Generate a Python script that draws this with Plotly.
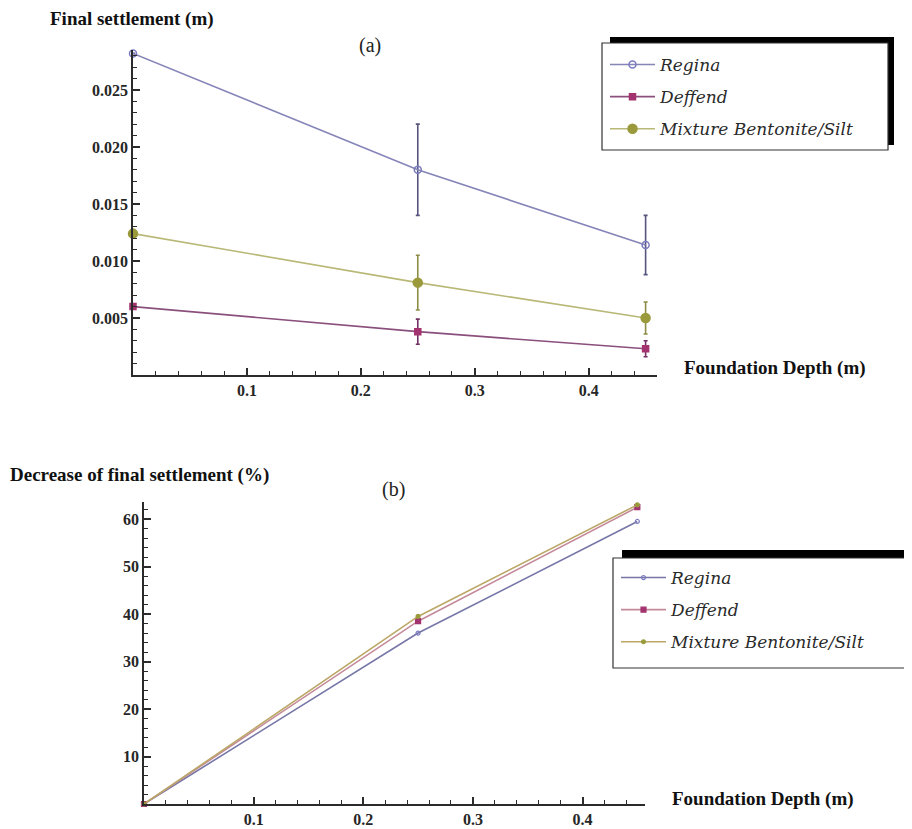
import plotly.graph_objects as go

# The page body has an 8px margin, so the figure is drawn 8px in from the top-left.
OFF = 8
W, H = 912 - OFF, 829 - OFF

# ---------------- data ----------------
depth = [0.0, 0.25, 0.45]

# (a) final settlement (m)
regina_settle = [0.0282, 0.0180, 0.0114]
regina_err = [0.0, 0.0040, 0.0026]
deffend_settle = [0.0060, 0.0038, 0.0023]
deffend_err = [0.0, 0.0011, 0.0007]
mixture_settle = [0.0124, 0.0081, 0.0050]
mixture_err = [0.0, 0.0024, 0.0014]

# (b) decrease of final settlement (%)
regina_dec = [0.0, 36.0, 59.5]
deffend_dec = [0.0, 38.5, 62.5]
mixture_dec = [0.0, 39.5, 63.0]

series_names = ["Regina", "Deffend", "Mixture Bentonite/Silt"]

xa_ticks = [0.1, 0.2, 0.3, 0.4]
ya_ticks = [0.005, 0.010, 0.015, 0.020, 0.025]
yb_ticks = [10, 20, 30, 40, 50, 60]

# ---------------- styling ----------------
SERIF = "Liberation Serif, Times New Roman, serif"
LEG_FONT = "DejaVu Serif, serif"
line_cols = ["#8585b8", "#8a4f7c", "#b8b877"]
err_cols = ["#55557e", "#733064", "#8c8c45"]
mk_cols = ["#7b7bc0", "#a3336f", "#9a9a3c"]
line_cols_b = ["#7676a8", "#c48a9a", "#bba766"]

def px(x):
    return (x - OFF) / W

def py(y):
    return 1 - (y - OFF) / H

fig = go.Figure()

settles = [regina_settle, deffend_settle, mixture_settle]
errs = [regina_err, deffend_err, mixture_err]
symbols = ["circle-open", "square", "circle"]
sizes = [7, 6, 9]
for i in range(3):
    fig.add_trace(go.Scatter(
        x=depth, y=settles[i], name=series_names[i], mode="lines+markers",
        line=dict(color=line_cols[i], width=1.6),
        marker=dict(symbol=symbols[i], size=sizes[i], color=mk_cols[i],
                    line=dict(color=mk_cols[i], width=1.5)),
        error_y=dict(type="data", array=errs[i], visible=True, color=err_cols[i],
                     thickness=1.6, width=2),
        cliponaxis=False, legend="legend", legendgroup="a%d" % i,
        xaxis="x", yaxis="y"))

decs = [regina_dec, deffend_dec, mixture_dec]
for i in range(3):
    fig.add_trace(go.Scatter(
        x=depth, y=decs[i], name=series_names[i], mode="lines+markers",
        line=dict(color=line_cols_b[i], width=1.6),
        marker=dict(symbol=symbols[i], size=[4, 5, 4][i], color=mk_cols[i],
                    line=dict(color=mk_cols[i], width=1.2)),
        cliponaxis=False, legend="legend2", legendgroup="b%d" % i,
        xaxis="x2", yaxis="y2"))

axis_common = dict(
    showline=True, linecolor="#2b2b2b", linewidth=1.5,
    ticks="inside", ticklen=7, tickwidth=1.5, tickcolor="#2b2b2b",
    showgrid=False, zeroline=False,
    tickfont=dict(family=SERIF, size=16, color="#262626", weight="bold"),
)
minor_common = dict(ticks="inside", ticklen=4, tickcolor="#2b2b2b", tickwidth=1.2, tick0=0)

fig.update_layout(
    width=W, height=H,
    margin=dict(l=0, r=0, t=0, b=0),
    paper_bgcolor="white", plot_bgcolor="rgba(0,0,0,0)",
    showlegend=True,
    xaxis=dict(domain=[px(133), px(657)], range=[0, 0.46], anchor="y",
               tickvals=xa_ticks, ticktext=["0.1", "0.2", "0.3", "0.4"],
               minor=dict(dtick=0.02, **minor_common), **axis_common),
    yaxis=dict(domain=[py(375), py(50)], range=[0, 0.0285], anchor="x",
               tickvals=ya_ticks, ticktext=["0.005", "0.010", "0.015", "0.020", "0.025"],
               minor=dict(dtick=0.001, **minor_common), **axis_common),
    xaxis2=dict(domain=[px(144), px(645)], range=[0, 0.457], anchor="y2",
                tickvals=xa_ticks, ticktext=["0.1", "0.2", "0.3", "0.4"],
                minor=dict(dtick=0.02, **minor_common), **axis_common),
    yaxis2=dict(domain=[py(804), py(502)], range=[0, 63.6], anchor="x2",
                tickvals=yb_ticks, ticktext=[str(v) for v in yb_ticks],
                minor=dict(dtick=2, **minor_common), **axis_common),
    legend=dict(x=px(605), y=py(47), xanchor="left", yanchor="top",
                bgcolor="rgba(0,0,0,0)", borderwidth=0, itemwidth=45,
                tracegroupgap=7,
                font=dict(family=LEG_FONT, size=17, color="#2a2a2a", style="italic")),
    legend2=dict(x=px(616), y=py(560), xanchor="left", yanchor="top",
                 bgcolor="rgba(0,0,0,0)", borderwidth=0, itemwidth=45,
                 tracegroupgap=7,
                 font=dict(family=LEG_FONT, size=17, color="#2a2a2a", style="italic")),
)

# legend frames with black drop shadow
shapes = [
    dict(type="rect", xref="paper", yref="paper", x0=px(610), x1=px(894), y0=py(145), y1=py(37),
         fillcolor="black", line=dict(width=0), layer="below"),
    dict(type="rect", xref="paper", yref="paper", x0=px(602), x1=px(888), y0=py(150), y1=py(43),
         fillcolor="white", line=dict(color="#333333", width=1.2), layer="below"),
    dict(type="rect", xref="paper", yref="paper", x0=px(622), x1=px(916), y0=py(660), y1=py(550),
         fillcolor="black", line=dict(width=0), layer="below"),
    dict(type="rect", xref="paper", yref="paper", x0=px(613), x1=px(916), y0=py(668), y1=py(558),
         fillcolor="white", line=dict(color="#333333", width=1.2), layer="below"),
]
fig.update_layout(shapes=shapes)

bold_font = dict(family=SERIF, size=19, color="#111111", weight="bold")
annotations = [
    dict(text="Final settlement (m)", x=px(48), y=py(19), xanchor="left", yanchor="middle",
         font=bold_font),
    dict(text="Foundation Depth (m)", x=px(682), y=py(368), xanchor="left", yanchor="middle",
         font=bold_font),
    dict(text="(a)", x=px(370), y=py(45), xanchor="center", yanchor="middle",
         font=dict(family=SERIF, size=20, color="#222222")),
    dict(text="Decrease of final settlement (%)", x=px(8), y=py(475), xanchor="left",
         yanchor="middle", font=bold_font),
    dict(text="Foundation Depth (m)", x=px(670), y=py(799), xanchor="left", yanchor="middle",
         font=bold_font),
    dict(text="(b)", x=px(393), y=py(489), xanchor="center", yanchor="middle",
         font=dict(family=SERIF, size=20, color="#222222")),
]
for a in annotations:
    a.update(xref="paper", yref="paper", showarrow=False)
fig.update_layout(annotations=annotations)

fig.write_html("out.html")
